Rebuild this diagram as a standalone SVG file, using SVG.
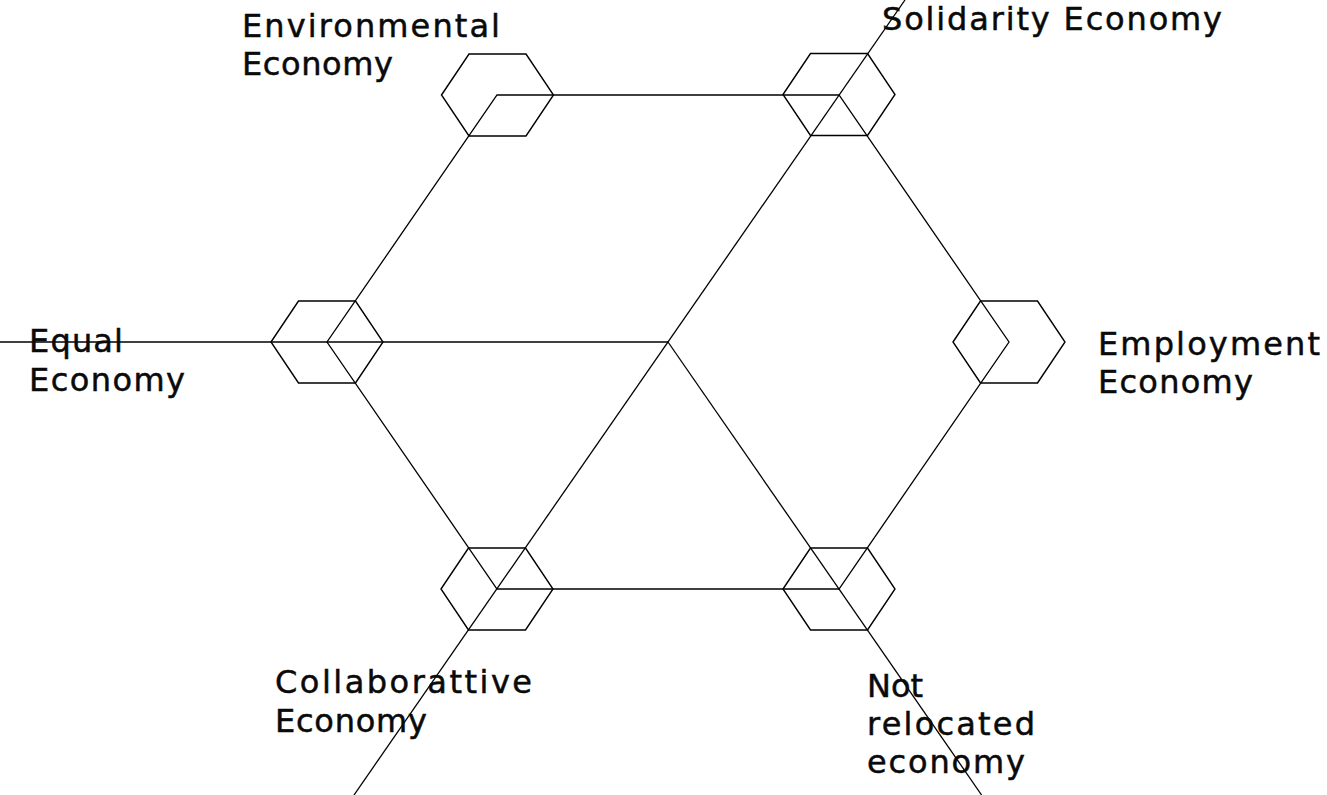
<svg xmlns="http://www.w3.org/2000/svg" xmlns:xlink="http://www.w3.org/1999/xlink" width="1327" height="795" viewBox="0 0 1327 795">
<style>
.hex{fill:none;stroke:#000;stroke-width:1.4;stroke-linejoin:miter}
.ln{fill:none;stroke:#000;stroke-width:1.3}
.lbl{font-family:"DejaVu Sans","Liberation Sans",sans-serif;font-size:32px;fill:#0a0a0a;stroke:#0a0a0a;stroke-width:0.5}
</style>
<defs>
<polygon id="hex" class="hex" points="-56,0 -28.5,-41 28.5,-41 56,0 28.5,41 -28.5,41"/>
</defs>
<rect width="1327" height="795" fill="#fff"/>
<g id="connectors">
<polygon class="ln" points="497,95 839,95 1009,342 839,589 497,589 327,342"/>
<line class="ln" x1="0" y1="342" x2="668" y2="342"/>
<line class="ln" x1="354" y1="795" x2="905" y2="0"/>
<line class="ln" x1="668" y1="342" x2="981.6" y2="795"/>
</g>
<g id="environmental">
<use xlink:href="#hex" href="#hex" transform="translate(497.5,95)"/>
<text class="lbl" x="242" y="37" textLength="258" lengthAdjust="spacing">Environmental</text>
<text class="lbl" x="242" y="75" textLength="151" lengthAdjust="spacing">Economy</text>
</g>
<g id="solidarity">
<use xlink:href="#hex" href="#hex" transform="translate(839,94.5)"/>
<text class="lbl" x="882" y="30" textLength="340" lengthAdjust="spacing">Solidarity Economy</text>
</g>
<g id="equal">
<use xlink:href="#hex" href="#hex" transform="translate(327,342)"/>
<text class="lbl" x="29" y="352" textLength="94" lengthAdjust="spacing">Equal</text>
<text class="lbl" x="29" y="391" textLength="156" lengthAdjust="spacing">Economy</text>
</g>
<g id="employment">
<use xlink:href="#hex" href="#hex" transform="translate(1009,342)"/>
<text class="lbl" x="1098" y="355" textLength="222" lengthAdjust="spacing">Employment</text>
<text class="lbl" x="1098" y="393" textLength="155" lengthAdjust="spacing">Economy</text>
</g>
<g id="collaborattive">
<use xlink:href="#hex" href="#hex" transform="translate(497,589)"/>
<text class="lbl" x="275" y="693" textLength="257" lengthAdjust="spacing">Collaborattive</text>
<text class="lbl" x="275" y="732" textLength="152" lengthAdjust="spacing">Economy</text>
</g>
<g id="not-relocated">
<use xlink:href="#hex" href="#hex" transform="translate(839,589)"/>
<text class="lbl" x="867" y="697" textLength="56" lengthAdjust="spacing">Not</text>
<text class="lbl" x="867" y="735" textLength="168" lengthAdjust="spacing">relocated</text>
<text class="lbl" x="867" y="773" textLength="158" lengthAdjust="spacing">economy</text>
</g>
</svg>
